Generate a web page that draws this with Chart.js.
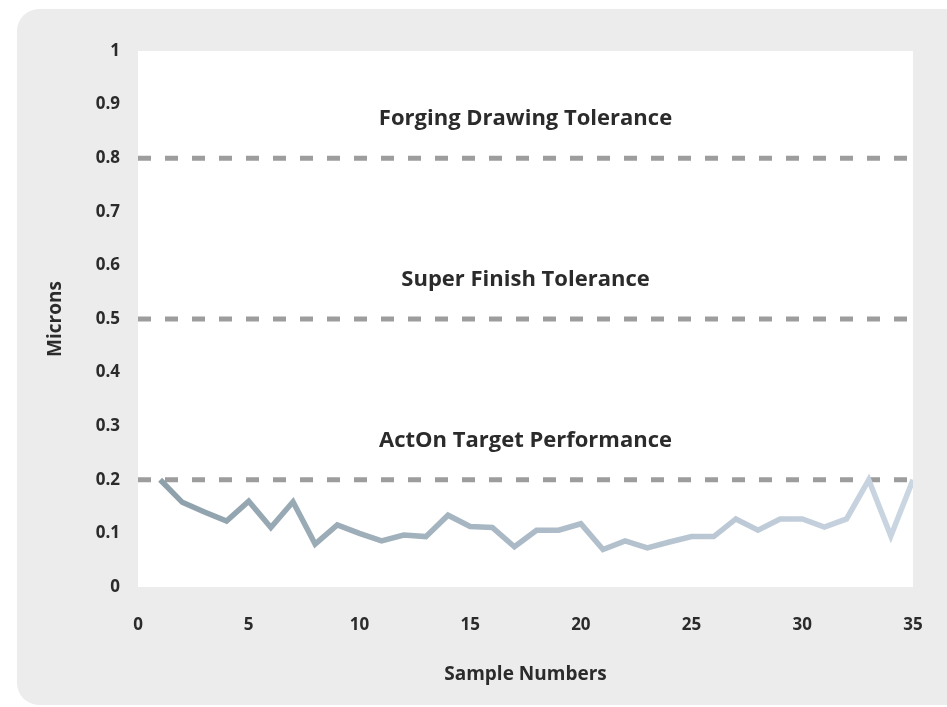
<!DOCTYPE html>
<html>
<head>
<meta charset="utf-8">
<script src="https://cdn.jsdelivr.net/npm/chart.js@4.4.1/dist/chart.umd.min.js"></script>
<style>
  html, body { margin: 0; padding: 0; background: #fff; }
  #wrap { position: relative; width: 947px; height: 707px; overflow: hidden; }
  #panel { position: absolute; left: 17px; top: 9px; width: 980px; height: 696px; background: #ececec; border-radius: 22px; }
  #myChart { position: absolute; left: 0; top: 0; }
</style>
</head>
<body>
<div id="wrap">
  <div id="panel"></div>
  <canvas id="myChart" width="947" height="707"></canvas>
</div>
<script>
// sample numbers and measured roughness (microns)
var samples = [1,2,3,4,5,6,7,8,9,10,11,12,13,14,15,16,17,18,19,20,21,22,23,24,25,26,27,28,29,30,31,32,33,34,35]
var microns = [0.20,0.158,0.14,0.123,0.16,0.111,0.159,0.08,0.116,0.10,0.086,0.097,0.094,0.134,0.113,0.111,0.075,0.106,0.106,0.118,0.07,0.086,0.073,0.084,0.094,0.094,0.127,0.106,0.127,0.127,0.112,0.127,0.2,0.095,0.2]

// tolerance lines
var tolValues = [0.8, 0.5, 0.2]
var tolLabels = ['Forging Drawing Tolerance', 'Super Finish Tolerance', 'ActOn Target Performance']
var xRange = [0, 35]

var FONT = '"Open Sans", Lato, sans-serif'
var TEXT = '#2b2b2b'

const whiteArea = {
  id: 'whiteArea',
  beforeDraw(chart) {
    const {ctx, chartArea} = chart
    ctx.save()
    ctx.fillStyle = '#ffffff'
    ctx.fillRect(chartArea.left, chartArea.top, chartArea.right - chartArea.left, chartArea.bottom - chartArea.top)
    ctx.restore()
  }
}

const tolText = {
  id: 'tolText',
  afterDatasetsDraw(chart) {
    const {ctx, chartArea, scales} = chart
    ctx.save()
    ctx.font = 'bold 22px ' + FONT
    ctx.fillStyle = TEXT
    ctx.textAlign = 'center'
    ctx.textBaseline = 'middle'
    tolValues.forEach((v, i) => {
      let y = scales.y.getPixelForValue(v) - 39
      ctx.fillText(tolLabels[i], (chartArea.left + chartArea.right) / 2, y)
    })
    ctx.restore()
  }
}

function lineGradient(context) {
  const chart = context.chart
  const area = chart.chartArea
  if (!area) return '#9fb0bb'
  const g = chart.ctx.createLinearGradient(area.left, 0, area.right, 0)
  g.addColorStop(0, '#8c9fa9')
  g.addColorStop(0.5, '#abbac6')
  g.addColorStop(1, '#cbd6e3')
  return g
}

const datasets = [{
  data: samples.map((s, i) => ({x: s, y: microns[i]})),
  borderColor: lineGradient,
  borderWidth: 5.5,
  borderJoinStyle: 'miter',
  pointRadius: 0,
  tension: 0,
  fill: false,
  order: 0
}]
tolValues.forEach((v) => {
  datasets.push({
    data: xRange.map((x) => ({x: x, y: v})),
    borderColor: '#9d9d9d',
    borderWidth: 5,
    borderDash: [13, 14],
    borderCapStyle: 'butt',
    pointRadius: 0,
    fill: false,
    order: 1
  })
})

const ctx = document.getElementById('myChart')
const chart1 = new Chart(ctx, {
  type: 'line',
  data: { datasets: datasets },
  options: {
    responsive: false,
    animation: false,
    layout: { padding: { top: 51, right: 34, left: 0, bottom: 0 } },
    plugins: { legend: {display: false}, tooltip: {enabled: false} },
    scales: {
      x: {
        type: 'linear', min: 0, max: 35,
        grid: {display: false}, border: {display: false},
        ticks: { stepSize: 5, color: TEXT, padding: 20, font: {family: FONT, size: 17, weight: 'bold'} },
        title: { display: true, text: 'Sample Numbers', color: TEXT, padding: {bottom: 21}, font: {family: FONT, size: 19, weight: 'bold'} },
        afterFit: (s) => { s.height = 120 }
      },
      y: {
        min: 0, max: 1,
        grid: {display: false}, border: {display: false},
        ticks: { stepSize: 0.1, color: TEXT, padding: 10, font: {family: FONT, size: 17, weight: 'bold'},
          callback: (v) => Math.round(v * 10) / 10 + '' },
        title: { display: true, text: 'Microns', color: TEXT, padding: {top: 44}, font: {family: FONT, size: 19, weight: 'bold'} },
        afterFit: (s) => { s.width = 138 }
      }
    }
  },
  plugins: [whiteArea, tolText]
})
</script>
</body>
</html>
